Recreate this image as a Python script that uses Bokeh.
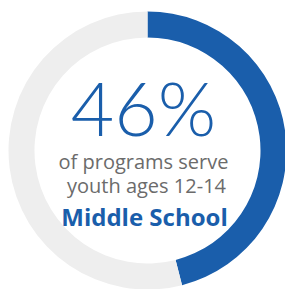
import numpy as np
from bokeh.plotting import figure
from bokeh.embed import file_html
from bokeh.resources import INLINE
from bokeh.core.properties import value

labels = ["Middle School", "Other"]
values = [46, 54]
colors = ["#1a5eab", "#eeeeee"]
big_label = "46%"
line1 = "of programs serve"
line2 = "youth ages 12-14"
line3 = "Middle School"

W, H = 285, 289
p = figure(width=W, height=H, x_range=(0, W), y_range=(0, H),
           output_backend="svg", toolbar_location=None, min_border=0)
p.axis.visible = False
p.grid.visible = False
p.outline_line_color = None
p.background_fill_color = "white"

cx, cy = 147, H - 150
frac = np.array(values) / sum(values)
ends = np.cumsum(frac)
starts = ends - frac
start_ang = np.pi / 2 - starts * 2 * np.pi
end_ang = np.pi / 2 - ends * 2 * np.pi
p.annular_wedge(x=cx, y=cy, inner_radius=113, outer_radius=139,
                start_angle=start_ang, end_angle=end_ang, direction="clock",
                color=colors, line_color=None)

p.text(x=[143], y=[H - 106], text=[big_label], text_align="center",
       text_baseline="alphabetic", text_font=value("Lato Light"),
       text_font_size="75px", text_color="#1a5eab")
p.text(x=[143, 146], y=[H - 161, H - 185], text=[line1, line2], text_align="center",
       text_baseline="alphabetic", text_font=value("Open Sans"),
       text_font_size="20px", text_color="#6b6b6b")
p.text(x=[144], y=[H - 216], text=[line3], text_align="center",
       text_baseline="alphabetic", text_font=value("Open Sans"), text_font_style="bold",
       text_font_size="24px", text_color="#1a5eab")

open("out.html", "w").write(file_html(p, INLINE))
